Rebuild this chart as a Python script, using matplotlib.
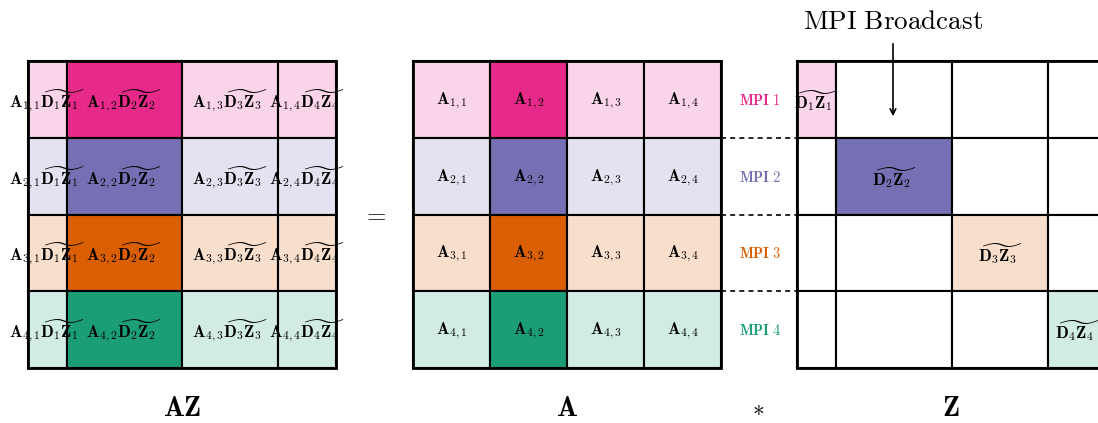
import matplotlib
matplotlib.use("Agg")
import matplotlib.pyplot as plt
from matplotlib.patches import Rectangle
from matplotlib.colors import to_rgb

plt.rcParams['mathtext.fontset'] = 'cm'

# ---- data ----
blocks = [1, 2, 3, 4]                       # block indices (rows / columns)
mpi_labels = ['MPI 1', 'MPI 2', 'MPI 3', 'MPI 4']
panel_titles = ['AZ', 'A', 'Z']
dark_colors = ['#e7298a', '#7570b3', '#d95f02', '#1b9e77']
broadcast_label = 'MPI Broadcast'
dark_col_AZ = 2          # column that is dark in AZ and A
dark_row_Z = 2           # row that is dark in Z

# ---- layout (pixels) ----
W, H = 1098, 423
fig = plt.figure(figsize=(W / 100, H / 100), dpi=100)
ax = fig.add_axes([0, 0, 1, 1])
ax.set_xlim(0, W)
ax.set_ylim(H, 0)
ax.axis('off')

row_edges = [61, 138, 215, 291, 368]
az_cols = [28, 67, 182, 278, 336]
a_cols = [413, 490, 567, 644, 721]
z_cols = [797, 836, 952, 1048, 1106]


def light(c, a=0.2):
    r, g, b = to_rgb(c)
    return (1 - a + a * r, 1 - a + a * g, 1 - a + a * b)


def cell(x0, x1, y0, y1, fc, lw=1.5):
    ax.add_patch(Rectangle((x0, y0), x1 - x0, y1 - y0, facecolor=fc,
                           edgecolor='black', lw=lw, zorder=1))


def frame(x0, x1, y0, y1, lw=2.0):
    ax.add_patch(Rectangle((x0, y0), x1 - x0, y1 - y0, facecolor='none',
                           edgecolor='black', lw=lw, zorder=3))


fs = 12
# AZ grid
for i, r in enumerate(blocks):
    y0, y1 = row_edges[i], row_edges[i + 1]
    for j, c in enumerate(blocks):
        x0, x1 = az_cols[j], az_cols[j + 1]
        fc = dark_colors[i] if c == dark_col_AZ else light(dark_colors[i])
        cell(x0, x1, y0, y1, fc)
    for j, c in enumerate(blocks):
        x0, x1 = az_cols[j], az_cols[j + 1]
        ax.text((x0 + x1) / 2, (y0 + y1) / 2 + 1,
                r'$\mathbf{A}_{%d,%d}\widetilde{\mathbf{D}_{%d}\mathbf{Z}_{%d}}$' % (r, c, c, c),
                ha='center', va='center', fontsize=fs, zorder=5)
frame(az_cols[0], az_cols[-1], row_edges[0], row_edges[-1])

# A grid
for i, r in enumerate(blocks):
    y0, y1 = row_edges[i], row_edges[i + 1]
    for j, c in enumerate(blocks):
        x0, x1 = a_cols[j], a_cols[j + 1]
        fc = dark_colors[i] if c == dark_col_AZ else light(dark_colors[i])
        cell(x0, x1, y0, y1, fc)
        ax.text((x0 + x1) / 2, (y0 + y1) / 2 + 1,
                r'$\mathbf{A}_{%d,%d}$' % (r, c),
                ha='center', va='center', fontsize=fs, zorder=5)
    ax.text(760, (y0 + y1) / 2 + 1, r'$\mathbf{%s}$' % mpi_labels[i].replace(' ', r'\ '),
            color=dark_colors[i], ha='center', va='center', fontsize=10.5, zorder=5)
frame(a_cols[0], a_cols[-1], row_edges[0], row_edges[-1])

# dashed separators
for y in row_edges[1:-1]:
    ax.plot([a_cols[-1], z_cols[0]], [y, y], ls=(0, (3, 2.5)), color='black', lw=1.2, zorder=2)

# Z grid
for i, r in enumerate(blocks):
    y0, y1 = row_edges[i], row_edges[i + 1]
    for j, c in enumerate(blocks):
        x0, x1 = z_cols[j], z_cols[j + 1]
        if r == c:
            fc = dark_colors[i] if r == dark_row_Z else light(dark_colors[i])
        else:
            fc = 'white'
        cell(x0, x1, y0, y1, fc)
        if r == c:
            ax.text((x0 + x1) / 2, (y0 + y1) / 2 + 1,
                    r'$\widetilde{\mathbf{D}_{%d}\mathbf{Z}_{%d}}$' % (c, c),
                    ha='center', va='center', fontsize=fs, zorder=5)
frame(z_cols[0], z_cols[-1], row_edges[0], row_edges[-1])

# operators and titles
ax.text(374, 214, r'$=$', ha='center', va='center', fontsize=18)
ax.text(758, 408, r'$*$', ha='center', va='center', fontsize=17)
title_x = [(az_cols[0] + az_cols[-1]) / 2, (a_cols[0] + a_cols[-1]) / 2,
           z_cols[0] + (az_cols[-1] - az_cols[0]) / 2]
for t, x in zip(panel_titles, title_x):
    ax.text(x, 408, r'$\mathbf{%s}$' % t, ha='center', va='center', fontsize=20)

# broadcast annotation
ax.text(893, 22, r'$\mathrm{%s}$' % broadcast_label.replace(' ', r'\ '),
        ha='center', va='center', fontsize=19.5)
ax.annotate('', xy=(893, 119), xytext=(893, 41),
            arrowprops=dict(arrowstyle='->', color='black', lw=1.2))

fig.savefig('out.png', dpi=100)
